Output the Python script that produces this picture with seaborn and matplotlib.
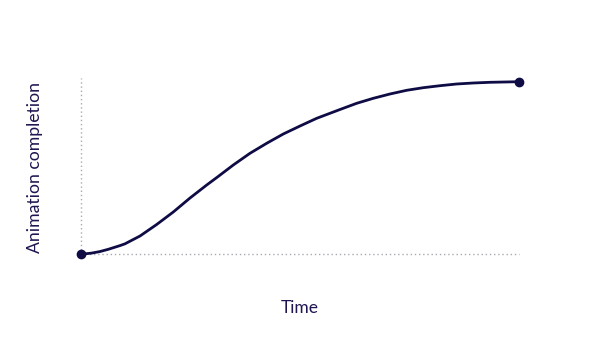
import matplotlib
matplotlib.use("Agg")
import matplotlib.pyplot as plt
import seaborn as sns
import pandas as pd

time = [0.0, 0.0244, 0.0434, 0.0623, 0.0890, 0.1005, 0.1347, 0.1728, 0.2107,
        0.2489, 0.2870, 0.3098, 0.3477, 0.3858, 0.4239, 0.4618, 0.5, 0.5381,
        0.5913, 0.6295, 0.6674, 0.7055, 0.7436, 0.7815, 0.8196, 0.8577,
        0.8957, 0.9338, 1.0]
completion = [0.0, 0.0070, 0.0160, 0.0290, 0.0504, 0.0608, 0.1060, 0.1727, 0.2451,
              0.3262, 0.4015, 0.4444, 0.5174, 0.5852, 0.6431, 0.6970, 0.7433, 0.7879,
              0.8389, 0.8749, 0.9038, 0.9288, 0.9502, 0.9653, 0.9768, 0.9867,
              0.9925, 0.9965, 1.0]
endpoints_t = [0.0, 1.0]
endpoints_v = [0.0, 1.0]
x_label = "Time"
y_label = "Animation completion"

sns.set_theme(style="white")
plt.rcParams['font.family'] = ['Lato', 'DejaVu Sans']

navy = "#0f0c45"
text_col = "#1d1650"

fig = plt.figure(figsize=(6, 3.38), dpi=100)
ax = fig.add_axes([81/600, (338-254.3)/338, 438/600, 172.6/338])
ax.set_xlim(0, 1)
ax.set_ylim(0, 1)

ax.plot([0, 0], [0, 1.023], linestyle=(0, (1, 2)), color="#a9a9b3", lw=1.0, clip_on=False)
ax.plot([0, 1], [0, 0], linestyle=(0, (1, 2)), color="#a9a9b3", lw=1.0, clip_on=False)

df = pd.DataFrame({"t": time, "v": completion})
sns.lineplot(data=df, x="t", y="v", ax=ax, color=navy, lw=2.0, clip_on=False)
ax.plot(endpoints_t, endpoints_v, "o", color=navy, ms=6, clip_on=False, zorder=5)

for s in ax.spines.values():
    s.set_visible(False)
ax.set_xticks([])
ax.set_yticks([])
ax.set_xlabel("")
ax.set_ylabel("")

fig.text(300/600, 1 - 308/338, x_label, ha="center", va="center", fontsize=12.5, color=text_col)
fig.text(35/600, 1 - 167.5/338, y_label, ha="center", va="center", rotation=90, fontsize=12.7, color=text_col)

fig.savefig("out.png", dpi=100)
